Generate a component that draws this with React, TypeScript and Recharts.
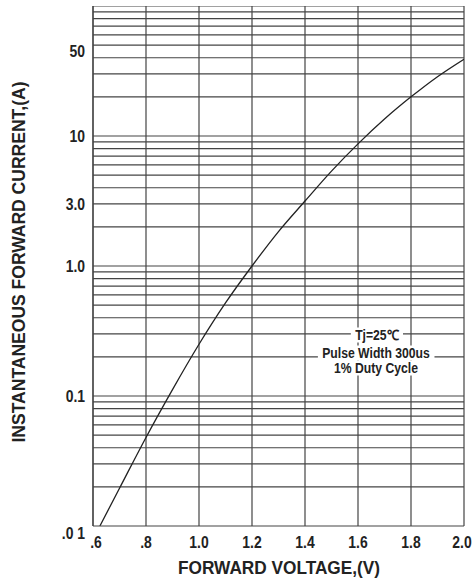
import { CartesianGrid, Label, Line, LineChart, ReferenceLine, XAxis, YAxis } from "recharts";

// forward voltage (V) vs instantaneous forward current (A)
const voltage = [0.626, 0.7, 0.8, 0.9, 1.0, 1.1, 1.2, 1.3, 1.4, 1.5, 1.6, 1.7, 1.8, 1.9, 2.0];
const current = [0.01, 0.0195, 0.048, 0.112, 0.25, 0.52, 1.0, 1.84, 3.16, 5.37, 8.7, 13.5, 20, 28.6, 39];

const xTicks = [0.6, 0.8, 1.0, 1.2, 1.4, 1.6, 1.8, 2.0];
const xTickLabels = [".6", ".8", "1.0", "1.2", "1.4", "1.6", "1.8", "2.0"];
const yTicks = [0.01, 0.1, 1, 3, 10, 50];
const yTickLabels = [".0 1", "0.1", "1.0", "3.0", "10", "50"];

// log paper lines
const gridY = [
  0.02, 0.03, 0.04, 0.05, 0.06, 0.07, 0.08, 0.09,
  0.1, 0.2, 0.3, 0.4, 0.5, 0.6, 0.7, 0.8, 0.9,
  1, 2, 3, 4, 5, 6, 7, 8, 9,
  10, 20, 30, 40, 50, 60, 70, 80, 90, 100,
];

const data = voltage.map((v, i) => ({ v, i: current[i] }));

const font = '"Liberation Sans", Arial, sans-serif';
const ink = "#222";
const gridColor = "#444";

// the sheet uses a condensed bold face, so squeeze the glyphs horizontally
function YTick(props: any) {
  const { x, y, payload } = props;
  const idx = yTicks.indexOf(payload.value);
  // the bottom and top labels sit a little low on the original sheet
  const shift = payload.value === 0.01 ? 7 : payload.value === 50 ? 6 : 0;
  return (
    <text
      transform={`translate(${x},${y + shift}) scale(0.87,1)`}
      dy={6}
      textAnchor="end"
      fontFamily={font}
      fontWeight="bold"
      fontSize={16}
      fill={ink}
    >
      {yTickLabels[idx]}
    </text>
  );
}

function XTick(props: any) {
  const { x, y, payload } = props;
  const idx = xTicks.indexOf(payload.value);
  const nudge = payload.value === 2.0 ? -2 : payload.value === 0.6 ? 3 : 0;
  return (
    <text
      transform={`translate(${x + nudge},${y}) scale(0.87,1)`}
      dy={14}
      textAnchor="middle"
      fontFamily={font}
      fontWeight="bold"
      fontSize={16}
      fill={ink}
    >
      {xTickLabels[idx]}
    </text>
  );
}

const noteStyle: React.CSSProperties = {
  position: "absolute",
  transform: "translate(-50%, -50%) scaleX(0.87)",
  background: "#fff",
  padding: "0 5px",
  fontFamily: font,
  fontWeight: "bold",
  fontSize: 14,
  lineHeight: "15px",
  color: ink,
  whiteSpace: "nowrap",
};

export default function App() {
  return (
    <div style={{ position: "absolute", left: 0, top: 0, width: 474, height: 584, background: "#fff" }}>
      <LineChart width={474} height={584} data={data} margin={{ top: 6, right: 10, bottom: 8, left: 0 }}>
        <CartesianGrid horizontal={false} stroke={gridColor} strokeWidth={1.2} />
        {gridY.map((g) => (
          <ReferenceLine key={g} y={g} stroke={gridColor} strokeWidth={1.2} ifOverflow="hidden" />
        ))}
        <XAxis
          dataKey="v"
          type="number"
          domain={[0.6, 2.0]}
          ticks={xTicks}
          tick={<XTick />}
          tickLine={false}
          axisLine={{ stroke: gridColor, strokeWidth: 1.2 }}
          height={50}
          allowDataOverflow
        >
          <Label
            content={() => (
              <text
                x={279}
                y={574}
                textAnchor="middle"
                fontFamily={font}
                fontWeight="bold"
                fontSize={19}
                textLength={202}
                lengthAdjust="spacingAndGlyphs"
                fill={ink}
              >
                FORWARD VOLTAGE,(V)
              </text>
            )}
          />
        </XAxis>
        <YAxis
          scale="log"
          domain={[0.01, 100]}
          ticks={yTicks}
          tick={<YTick />}
          tickLine={false}
          axisLine={{ stroke: gridColor, strokeWidth: 1.2 }}
          width={93}
          allowDataOverflow
        >
          <Label
            content={() => {
              const cx = 25;
              const cy = 262;
              return (
                <text
                  x={cx}
                  y={cy}
                  transform={`rotate(-90 ${cx} ${cy})`}
                  textAnchor="middle"
                  fontFamily={font}
                  fontWeight="bold"
                  fontSize={19}
                  textLength={361}
                  lengthAdjust="spacingAndGlyphs"
                  fill={ink}
                >
                  INSTANTANEOUS FORWARD CURRENT,(A)
                </text>
              );
            }}
          />
        </YAxis>
        <Line
          type="monotone"
          dataKey="i"
          stroke={ink}
          strokeWidth={1.3}
          dot={false}
          isAnimationActive={false}
        />
      </LineChart>
      <div style={{ ...noteStyle, left: 377, top: 335 }}>Tj=25℃</div>
      <div style={{ ...noteStyle, left: 376, top: 353 }}>Pulse Width 300us</div>
      <div style={{ ...noteStyle, left: 376, top: 368, padding: "0 12px" }}>1% Duty Cycle</div>
    </div>
  );
}
